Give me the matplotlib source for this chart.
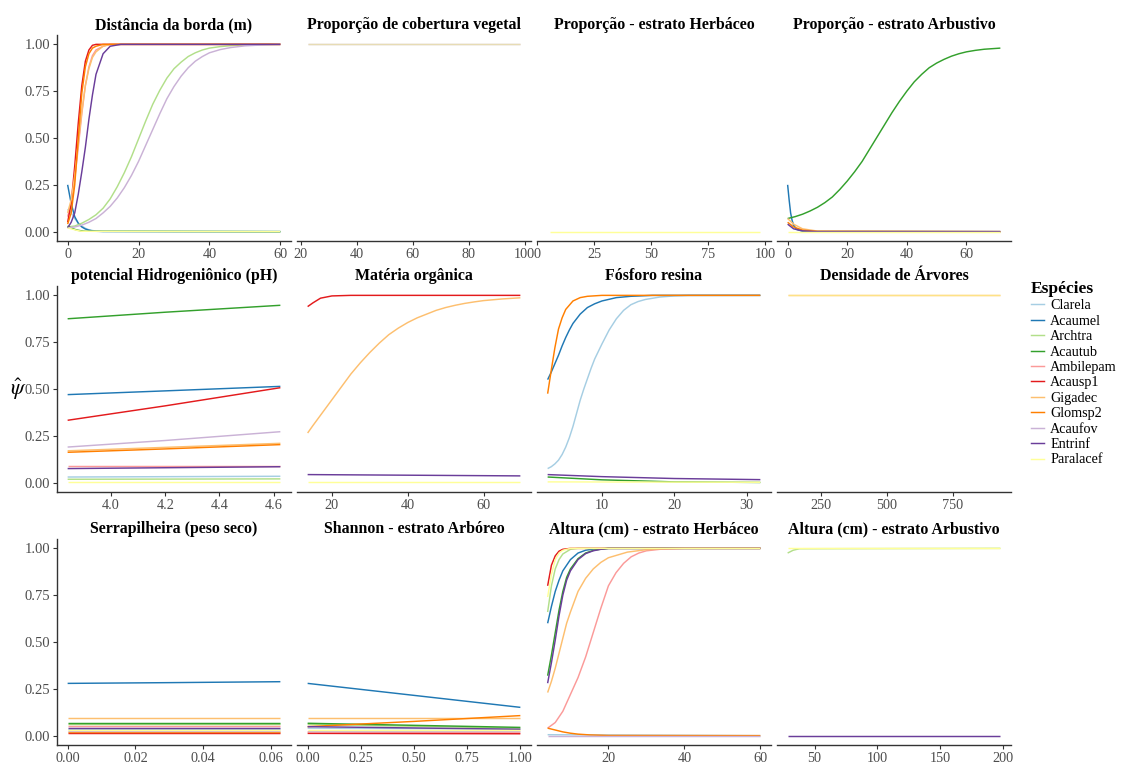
import matplotlib
matplotlib.use("Agg")
import matplotlib.pyplot as plt
from matplotlib.lines import Line2D

plt.rcParams["font.family"] = ["Liberation Serif", "DejaVu Serif"]
plt.rcParams["mathtext.fontset"] = "stix"

# species order and Paired palette (ggplot scale_colour_brewer)
SPECIES = ["Clarela", "Acaumel", "Archtra", "Acautub", "Ambilepam", "Acausp1",
           "Gigadec", "Glomsp2", "Acaufov", "Entrinf", "Paralacef"]
COLORS = ["#A6CEE3", "#1F78B4", "#B2DF8A", "#33A02C", "#FB9A99", "#E31A1C",
          "#FDBF6F", "#FF7F00", "#CAB2D6", "#6A3D9A", "#FFFF99"]

TITLES = ["Distância da borda (m)", "Proporção de cobertura vegetal",
          "Proporção - estrato Herbáceo", "Proporção - estrato Arbustivo",
          "potencial Hidrogeniônico (pH)", "Matéria orgânica", "Fósforo resina",
          "Densidade de Árvores", "Serrapilheira (peso seco)",
          "Shannon - estrato Arbóreo", "Altura (cm) - estrato Herbáceo",
          "Altura (cm) - estrato Arbustivo"]

# predicted occupancy curves, species -> (x, psi)
DISTANCIA = {
    "Clarela": ([0, 1, 2, 3, 4, 5, 6, 7, 8, 10, 60], [0.12, 0.10, 0.07, 0.045, 0.03, 0.018, 0.01, 0.006, 0.003, 0.001, 0.0]),
    "Acaumel": ([0, 1, 2, 3, 4, 5, 6, 7, 8, 10, 60], [0.25, 0.15, 0.08, 0.045, 0.025, 0.014, 0.008, 0.004, 0.002, 0.001, 0.0]),
    "Archtra": ([0, 2, 4, 6, 8, 10, 12, 14, 16, 18, 20, 22, 24, 26, 28, 30, 32, 34, 36, 38, 40, 43, 46, 50, 55, 60],
                [0.025, 0.03, 0.045, 0.065, 0.09, 0.125, 0.175, 0.24, 0.315, 0.4, 0.495, 0.59, 0.68, 0.755, 0.82,
                 0.87, 0.905, 0.935, 0.955, 0.97, 0.98, 0.988, 0.993, 0.997, 0.999, 1.0]),
    "Acautub": ([0, 1, 2, 3, 4, 5, 60], [0.03, 0.02, 0.012, 0.007, 0.004, 0.002, 0.0]),
    "Ambilepam": ([0, 1, 2, 3, 4, 5, 6, 7, 8, 10, 12, 60], [0.08, 0.15, 0.28, 0.45, 0.63, 0.78, 0.88, 0.94, 0.97, 0.99, 1.0, 1.0]),
    "Acausp1": ([0, 1, 2, 3, 4, 5, 6, 7, 8, 60], [0.05, 0.15, 0.35, 0.58, 0.78, 0.91, 0.97, 0.995, 1.0, 1.0]),
    "Gigadec": ([0, 1, 2, 3, 4, 5, 6, 7, 8, 10, 12, 60], [0.1, 0.17, 0.3, 0.47, 0.64, 0.78, 0.87, 0.93, 0.96, 0.99, 1.0, 1.0]),
    "Glomsp2": ([0, 1, 2, 3, 4, 5, 6, 7, 8, 10, 60], [0.04, 0.1, 0.25, 0.5, 0.74, 0.88, 0.95, 0.98, 0.99, 1.0, 1.0]),
    "Acaufov": ([0, 2, 4, 6, 8, 10, 12, 14, 16, 18, 20, 22, 24, 26, 28, 30, 32, 34, 36, 38, 40, 43, 46, 50, 55, 60],
                [0.02, 0.025, 0.035, 0.05, 0.07, 0.1, 0.135, 0.18, 0.235, 0.3, 0.375, 0.46, 0.545, 0.63, 0.71,
                 0.775, 0.83, 0.875, 0.91, 0.935, 0.955, 0.972, 0.983, 0.992, 0.997, 1.0]),
    "Entrinf": ([0, 1, 2, 3, 4, 5, 6, 7, 8, 10, 12, 15, 60], [0.02, 0.05, 0.1, 0.2, 0.32, 0.45, 0.6, 0.73, 0.84, 0.95, 0.99, 1.0, 1.0]),
    "Paralacef": ([0, 1, 2, 3, 4, 60], [0.02, 0.015, 0.01, 0.005, 0.002, 0.0]),
}
COBERTURA = {
    "Acaufov": ([22.5, 98.5], [1.0, 1.0]),
    "Paralacef": ([22.5, 98.5], [1.0, 1.0]),
}
HERB_PROP = {
    "Paralacef": ([5.5, 98], [0.0, 0.0]),
}
ARB_PROP = {
    "Acaumel": ([0, 0.5, 1, 1.5, 2, 3, 5, 71.4], [0.25, 0.17, 0.1, 0.06, 0.035, 0.012, 0.002, 0.0]),
    "Acautub": ([0, 2.5, 5, 7.5, 10, 12.5, 15, 17.5, 20, 22.5, 25, 27.5, 30, 32.5, 35, 37.5, 40, 42.5, 45,
                 47.5, 50, 52.5, 55, 57.5, 60, 63, 66, 71.4],
                [0.07, 0.08, 0.093, 0.11, 0.13, 0.155, 0.185, 0.225, 0.27, 0.32, 0.375, 0.44, 0.505, 0.57, 0.635,
                 0.695, 0.75, 0.8, 0.84, 0.875, 0.9, 0.92, 0.937, 0.95, 0.96, 0.968, 0.974, 0.98]),
    "Gigadec": ([0, 2, 5, 10, 71.4], [0.07, 0.04, 0.015, 0.003, 0.0]),
    "Glomsp2": ([0, 2, 5, 10, 71.4], [0.05, 0.025, 0.008, 0.001, 0.0]),
    "Entrinf": ([0, 2, 5, 10, 71.4], [0.04, 0.015, 0.004, 0.0, 0.0]),
    "Paralacef": ([0, 71.4], [0.0, 0.0]),
}
PH = {
    "Clarela": ([3.84, 4.625], [0.03, 0.034]),
    "Acaumel": ([3.84, 4.2, 4.625], [0.47, 0.49, 0.514]),
    "Archtra": ([3.84, 4.625], [0.018, 0.02]),
    "Acautub": ([3.84, 4.2, 4.625], [0.875, 0.91, 0.947]),
    "Ambilepam": ([3.84, 4.625], [0.088, 0.088]),
    "Acausp1": ([3.84, 4.2, 4.625], [0.333, 0.41, 0.507]),
    "Gigadec": ([3.84, 4.625], [0.17, 0.21]),
    "Glomsp2": ([3.84, 4.2, 4.625], [0.162, 0.18, 0.203]),
    "Acaufov": ([3.84, 4.2, 4.625], [0.19, 0.225, 0.272]),
    "Entrinf": ([3.84, 4.625], [0.075, 0.085]),
    "Paralacef": ([3.84, 4.625], [0.003, 0.003]),
}
MATERIA = {
    "Acausp1": ([13.6, 15, 17, 20, 25, 69.7], [0.94, 0.96, 0.985, 0.997, 1.0, 1.0]),
    "Gigadec": ([13.6, 15, 17, 19, 21, 23, 25, 27.5, 30, 32.5, 35, 37.5, 40, 42.5, 45, 47.5, 50, 52.5, 55,
                 57.5, 60, 65, 69.7],
                [0.265, 0.305, 0.36, 0.415, 0.47, 0.525, 0.58, 0.64, 0.695, 0.745, 0.79, 0.825, 0.855, 0.88,
                 0.9, 0.92, 0.935, 0.947, 0.957, 0.965, 0.972, 0.981, 0.987]),
    "Entrinf": ([13.6, 69.7], [0.043, 0.036]),
    "Paralacef": ([13.6, 69.7], [0.003, 0.003]),
}
FOSFORO = {
    "Clarela": ([2.5, 3, 3.5, 4, 4.5, 5, 5.5, 6, 6.5, 7, 7.5, 8, 8.5, 9, 9.5, 10, 11, 12, 13, 14, 15, 16, 18,
                 20, 22, 31.9],
                [0.075, 0.085, 0.1, 0.12, 0.15, 0.19, 0.24, 0.3, 0.37, 0.44, 0.5, 0.555, 0.61, 0.66, 0.7, 0.74,
                 0.815, 0.875, 0.92, 0.95, 0.967, 0.978, 0.991, 0.997, 1.0, 1.0]),
    "Acaumel": ([2.5, 3, 3.5, 4, 4.5, 5, 5.5, 6, 7, 8, 9, 10, 12, 14, 17, 31.9],
                [0.55, 0.59, 0.635, 0.68, 0.73, 0.775, 0.815, 0.85, 0.9, 0.935, 0.955, 0.97, 0.988, 0.995, 1.0, 1.0]),
    "Acautub": ([2.5, 10, 20, 31.9], [0.03, 0.015, 0.004, 0.001]),
    "Glomsp2": ([2.5, 3, 3.5, 4, 4.5, 5, 6, 7, 8, 10, 31.9],
                [0.475, 0.6, 0.72, 0.82, 0.88, 0.925, 0.97, 0.988, 0.995, 1.0, 1.0]),
    "Entrinf": ([2.5, 10, 20, 31.9], [0.043, 0.032, 0.022, 0.016]),
    "Paralacef": ([2.5, 31.9], [0.004, 0.002]),
}
DENSIDADE = {
    "Gigadec": ([123, 930], [1.0, 1.0]),
    "Paralacef": ([123, 930], [1.0, 1.0]),
}
SERRAPILHEIRA = {
    "Clarela": ([0, 0.0627], [0.035, 0.035]),
    "Acaumel": ([0, 0.03, 0.0627], [0.279, 0.283, 0.288]),
    "Archtra": ([0, 0.0627], [0.062, 0.062]),
    "Acautub": ([0, 0.0627], [0.068, 0.068]),
    "Ambilepam": ([0, 0.0627], [0.05, 0.05]),
    "Acausp1": ([0, 0.0627], [0.012, 0.012]),
    "Gigadec": ([0, 0.0627], [0.0925, 0.0925]),
    "Glomsp2": ([0, 0.0627], [0.018, 0.018]),
    "Acaufov": ([0, 0.0627], [0.025, 0.025]),
    "Entrinf": ([0, 0.0627], [0.043, 0.043]),
    "Paralacef": ([0, 0.0627], [0.03, 0.03]),
}
SHANNON = {
    "Clarela": ([0, 1], [0.04, 0.035]),
    "Acaumel": ([0, 0.5, 1], [0.279, 0.215, 0.151]),
    "Archtra": ([0, 1], [0.06, 0.04]),
    "Acautub": ([0, 1], [0.066, 0.044]),
    "Ambilepam": ([0, 1], [0.02, 0.015]),
    "Acausp1": ([0, 1], [0.012, 0.01]),
    "Gigadec": ([0, 1], [0.0925, 0.0925]),
    "Glomsp2": ([0, 0.5, 1], [0.048, 0.076, 0.107]),
    "Acaufov": ([0, 1], [0.025, 0.025]),
    "Entrinf": ([0, 1], [0.048, 0.034]),
    "Paralacef": ([0, 1], [0.03, 0.03]),
}
ALTURA_HERB = {
    "Clarela": ([4, 60], [0.005, 0.0]),
    "Acaumel": ([4, 5, 6, 7, 8, 10, 12, 14, 16, 20, 60],
                [0.6, 0.69, 0.77, 0.83, 0.88, 0.94, 0.975, 0.99, 0.996, 1.0, 1.0]),
    "Archtra": ([4, 5, 6, 7, 8, 10, 12, 60], [0.66, 0.8, 0.89, 0.94, 0.97, 0.995, 1.0, 1.0]),
    "Acautub": ([4, 5, 6, 7, 8, 9, 10, 12, 14, 16, 18, 20, 60],
                [0.32, 0.43, 0.55, 0.67, 0.77, 0.845, 0.89, 0.945, 0.975, 0.989, 0.996, 1.0, 1.0]),
    "Ambilepam": ([4, 6, 8, 10, 11, 12, 13, 14, 15, 16, 17, 18, 19, 20, 22, 24, 26, 28, 30, 34, 40, 60],
                  [0.04, 0.07, 0.13, 0.22, 0.265, 0.31, 0.365, 0.42, 0.485, 0.55, 0.615, 0.68, 0.74, 0.8, 0.87,
                   0.92, 0.955, 0.975, 0.987, 0.996, 1.0, 1.0]),
    "Acausp1": ([4, 5, 6, 7, 8, 10, 60], [0.8, 0.91, 0.96, 0.985, 0.995, 1.0, 1.0]),
    "Gigadec": ([4, 5, 6, 7, 8, 9, 10, 12, 14, 16, 18, 20, 25, 30, 35, 40, 60],
                [0.23, 0.29, 0.36, 0.44, 0.52, 0.6, 0.66, 0.77, 0.84, 0.89, 0.925, 0.95, 0.98, 0.993, 0.998, 1.0, 1.0]),
    "Glomsp2": ([4, 6, 8, 10, 12, 15, 20, 60], [0.04, 0.03, 0.02, 0.013, 0.008, 0.004, 0.001, 0.0]),
    "Acaufov": ([4, 60], [0.0, 0.0]),
    "Entrinf": ([4, 5, 6, 7, 8, 9, 10, 12, 14, 16, 18, 20, 60],
                [0.28, 0.39, 0.51, 0.64, 0.75, 0.83, 0.88, 0.94, 0.972, 0.987, 0.995, 1.0, 1.0]),
    "Paralacef": ([4, 5, 6, 7, 8, 10, 60], [0.74, 0.86, 0.94, 0.975, 0.99, 1.0, 1.0]),
}
ALTURA_ARB = {
    "Archtra": ([28.6, 33, 38, 198], [0.975, 0.99, 0.998, 1.0]),
    "Entrinf": ([28.6, 198], [0.0, 0.0]),
    "Paralacef": ([28.6, 198], [1.0, 1.0]),
}

XTICKS = [[0, 20, 40, 60], [20, 40, 60, 80, 100], [0, 25, 50, 75, 100], [0, 20, 40, 60],
          [4.0, 4.2, 4.4, 4.6], [20, 40, 60], [10, 20, 30], [250, 500, 750],
          [0, 0.02, 0.04, 0.06], [0, 0.25, 0.5, 0.75, 1.0], [20, 40, 60], [50, 100, 150, 200]]
XLABELS = [["0", "20", "40", "60"], ["20", "40", "60", "80", "100"], ["0", "25", "50", "75", "100"],
           ["0", "20", "40", "60"], ["4.0", "4.2", "4.4", "4.6"], ["20", "40", "60"], ["10", "20", "30"],
           ["250", "500", "750"], ["0.00", "0.02", "0.04", "0.06"],
           ["0.00", "0.25", "0.50", "0.75", "1.00"], ["20", "40", "60"], ["50", "100", "150", "200"]]
YTICKS = [0, 0.25, 0.5, 0.75, 1.0]
YLABELS = ["0.00", "0.25", "0.50", "0.75", "1.00"]

PANEL_DATA = [DISTANCIA, COBERTURA, HERB_PROP, ARB_PROP, PH, MATERIA, FOSFORO, DENSIDADE,
              SERRAPILHEIRA, SHANNON, ALTURA_HERB, ALTURA_ARB]

W, H = 1131, 763
fig = plt.figure(figsize=(W / 100, H / 100), dpi=100)

col_left = [57, 297, 537, 777]
row_top = [35, 286, 539]
pw, ph = 234, 206
axis_col = "#333333"
tick_col = "#4D4D4D"

for k, data in enumerate(PANEL_DATA):
    r, c = divmod(k, 4)
    ax = fig.add_axes([col_left[c] / W, 1 - (row_top[r] + ph) / H, pw / W, ph / H])
    for sp, col in zip(SPECIES, COLORS):
        if sp in data:
            xs, ys = data[sp]
            # overlapping lines at psi = 1 blend in the original
            alpha = 0.55 if (sp == "Paralacef" and k in (1, 7)) else 1.0
            ax.plot(xs, ys, color=col, lw=1.05, alpha=alpha, solid_capstyle="butt")
    ax.margins(x=0.05)
    ax.set_ylim(-0.05, 1.05)
    ax.set_xticks(XTICKS[k])
    ax.set_xticklabels(XLABELS[k])
    ax.set_title(TITLES[k], fontsize=11.4, fontweight="bold", pad=4)
    for s in ("top", "right"):
        ax.spines[s].set_visible(False)
    ax.spines["bottom"].set_color(axis_col)
    ax.spines["bottom"].set_linewidth(1.0)
    ax.tick_params(axis="x", colors=axis_col, labelcolor=tick_col, labelsize=10.3,
                   length=3, width=0.8, pad=2)
    if c == 0:
        ax.set_yticks(YTICKS)
        ax.set_yticklabels(YLABELS)
        ax.spines["left"].set_color(axis_col)
        ax.spines["left"].set_linewidth(1.0)
        ax.tick_params(axis="y", colors=axis_col, labelcolor=tick_col, labelsize=10.5,
                       length=3, width=0.8, pad=2)
    else:
        ax.spines["left"].set_visible(False)
        ax.set_yticks([])

fig.text(18 / W, 1 - 389 / H, r"$\hat{\psi}$", fontsize=16, ha="center", va="center")

handles = [Line2D([], [], color=col, lw=1.05) for col in COLORS]
leg = fig.legend(handles, SPECIES, loc="upper left", bbox_to_anchor=(1031 / W, 1 - 281 / H),
                 frameon=False, fontsize=10.2, title="Espécies", handlelength=0.9,
                 handletextpad=0.45, labelspacing=0.17, borderpad=0, borderaxespad=0,
                 alignment="left", title_fontproperties={"weight": "bold", "size": 12.5})

fig.savefig("out.png", dpi=100)
